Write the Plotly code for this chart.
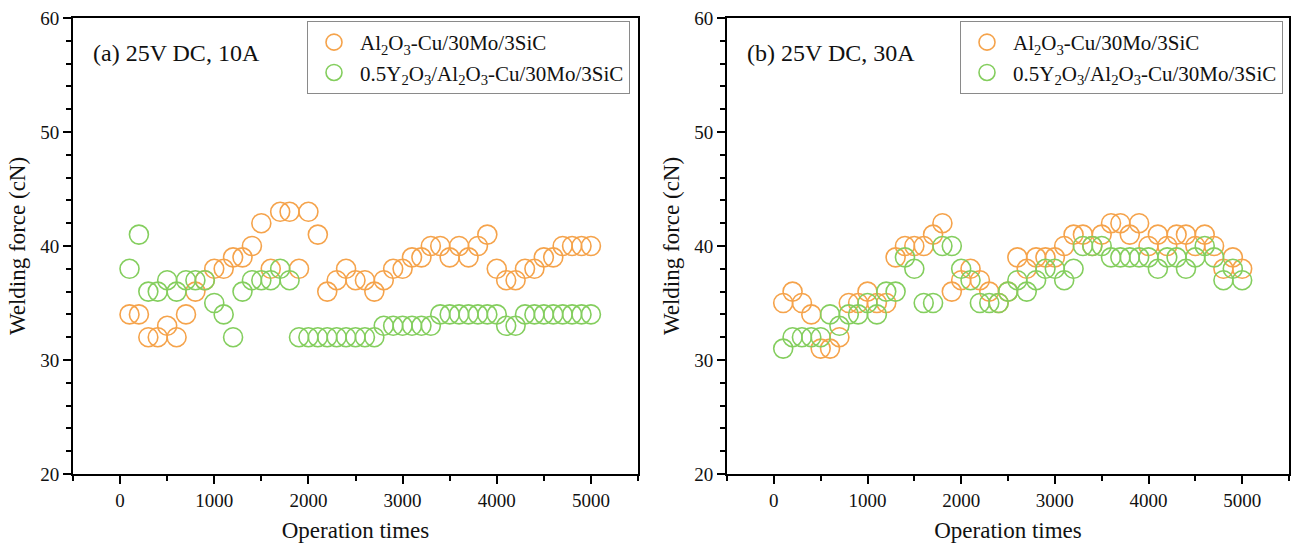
import plotly.graph_objects as go

# Operation counts (every 100 operations up to 5000)
ops = list(range(100, 5001, 100))

# (a) 25V DC, 10A
force_a_base = [34, 34, 32, 32, 33, 32, 34, 36, 37, 38,
                38, 39, 39, 40, 42, 38, 43, 43, 38, 43,
                41, 36, 37, 38, 37, 37, 36, 37, 38, 38,
                39, 39, 40, 40, 39, 40, 39, 40, 41, 38,
                37, 37, 38, 38, 39, 39, 40, 40, 40, 40]
force_a_y = [38, 41, 36, 36, 37, 36, 37, 37, 37, 35,
             34, 32, 36, 37, 37, 37, 38, 37, 32, 32,
             32, 32, 32, 32, 32, 32, 32, 33, 33, 33,
             33, 33, 33, 34, 34, 34, 34, 34, 34, 34,
             33, 33, 34, 34, 34, 34, 34, 34, 34, 34]

# (b) 25V DC, 30A
force_b_base = [35, 36, 35, 34, 31, 31, 32, 35, 35, 36,
                35, 35, 39, 40, 40, 40, 41, 42, 36, 37,
                38, 37, 36, 35, 36, 39, 38, 39, 39, 39,
                40, 41, 41, 40, 41, 42, 42, 41, 42, 40,
                41, 40, 41, 41, 40, 41, 40, 38, 39, 38]
force_b_y = [31, 32, 32, 32, 32, 34, 33, 34, 34, 35,
             34, 36, 36, 39, 38, 35, 35, 40, 40, 38,
             37, 35, 35, 35, 36, 37, 36, 37, 38, 38,
             37, 38, 40, 40, 40, 39, 39, 39, 39, 39,
             38, 39, 39, 38, 39, 40, 39, 37, 38, 37]

name_base = "Al<sub>2</sub>O<sub>3</sub>-Cu/30Mo/3SiC"
name_y = "0.5Y<sub>2</sub>O<sub>3</sub>/Al<sub>2</sub>O<sub>3</sub>-Cu/30Mo/3SiC"
panel_titles = ["(a) 25V DC, 10A", "(b) 25V DC, 30A"]

ORANGE = "#F5A34B"
GREEN = "#84CE5E"
FONT = "Liberation Serif, Times New Roman, serif"
TXT = "#111111"
W, H = 1291, 545

fig = go.Figure()

def marker(color):
    return dict(symbol="circle-open", size=19, color=color, line=dict(width=1.6, color=color))

panels = [(force_a_base, force_a_y, "x", "y", "legend", "a"),
          (force_b_base, force_b_y, "x2", "y2", "legend2", "b")]
for base, ydop, xa, ya, lg, tag in panels:
    fig.add_trace(go.Scatter(x=ops, y=base, mode="markers", name=name_base,
                             legendgroup=tag + "1", marker=marker(ORANGE),
                             xaxis=xa, yaxis=ya, legend=lg))
    fig.add_trace(go.Scatter(x=ops, y=ydop, mode="markers", name=name_y,
                             legendgroup=tag + "2", marker=marker(GREEN),
                             xaxis=xa, yaxis=ya, legend=lg))

ydom = [(H - 474) / H, (H - 18) / H]
xdoms = [[73 / W, 638 / W], [727 / W, 1289 / W]]

def xaxis_cfg(dom, anchor):
    return dict(domain=dom, anchor=anchor, range=[-500, 5500], tickmode="linear",
                tick0=0, dtick=1000, ticks="outside", ticklen=8, tickwidth=1.5,
                tickcolor="black", showline=True, linecolor="black", linewidth=2,
                mirror=True, showgrid=False, zeroline=False,
                minor=dict(ticks="outside", dtick=500, tick0=0, ticklen=5,
                           tickwidth=1.5, tickcolor="black", showgrid=False),
                tickfont=dict(family=FONT, size=19, color=TXT),
                title=dict(text="Operation times", font=dict(family=FONT, size=23, color=TXT),
                           standoff=12))

def yaxis_cfg(anchor):
    return dict(domain=ydom, anchor=anchor, range=[20, 60], tickmode="linear",
                tick0=20, dtick=10, ticks="outside", ticklen=8, tickwidth=1.5,
                tickcolor="black", showline=True, linecolor="black", linewidth=2,
                mirror=True, showgrid=False, zeroline=False,
                minor=dict(ticks="outside", dtick=2, tick0=20, ticklen=5,
                           tickwidth=1.5, tickcolor="black", showgrid=False),
                tickfont=dict(family=FONT, size=19, color=TXT),
                title=dict(text="Welding force (cN)", font=dict(family=FONT, size=23, color=TXT),
                           standoff=8))

def legend_cfg(x_px):
    return dict(x=x_px / W, y=(H - 21) / H, xanchor="left", yanchor="top",
                bgcolor="white", bordercolor="#8a8a8a", borderwidth=1,
                font=dict(family=FONT, size=21, color=TXT), itemwidth=42,
                traceorder="normal", tracegroupgap=2)

fig.update_layout(
    width=W, height=H,
    font=dict(family=FONT, color=TXT),
    margin=dict(l=0, r=0, t=0, b=0, autoexpand=False),
    paper_bgcolor="white", plot_bgcolor="white",
    xaxis=xaxis_cfg(xdoms[0], "y"),
    yaxis=yaxis_cfg("x"),
    xaxis2=xaxis_cfg(xdoms[1], "y2"),
    yaxis2=yaxis_cfg("x2"),
    legend=legend_cfg(307),
    legend2=legend_cfg(960),
    showlegend=True,
)

for i, txt in enumerate(panel_titles):
    fig.add_annotation(text=txt, xref="paper", yref="paper",
                       x=(xdoms[i][0] * W + 18) / W, y=(H - 53) / H,
                       xanchor="left", yanchor="middle", showarrow=False,
                       font=dict(family=FONT, size=24, color=TXT))

fig.write_html("out.html")
